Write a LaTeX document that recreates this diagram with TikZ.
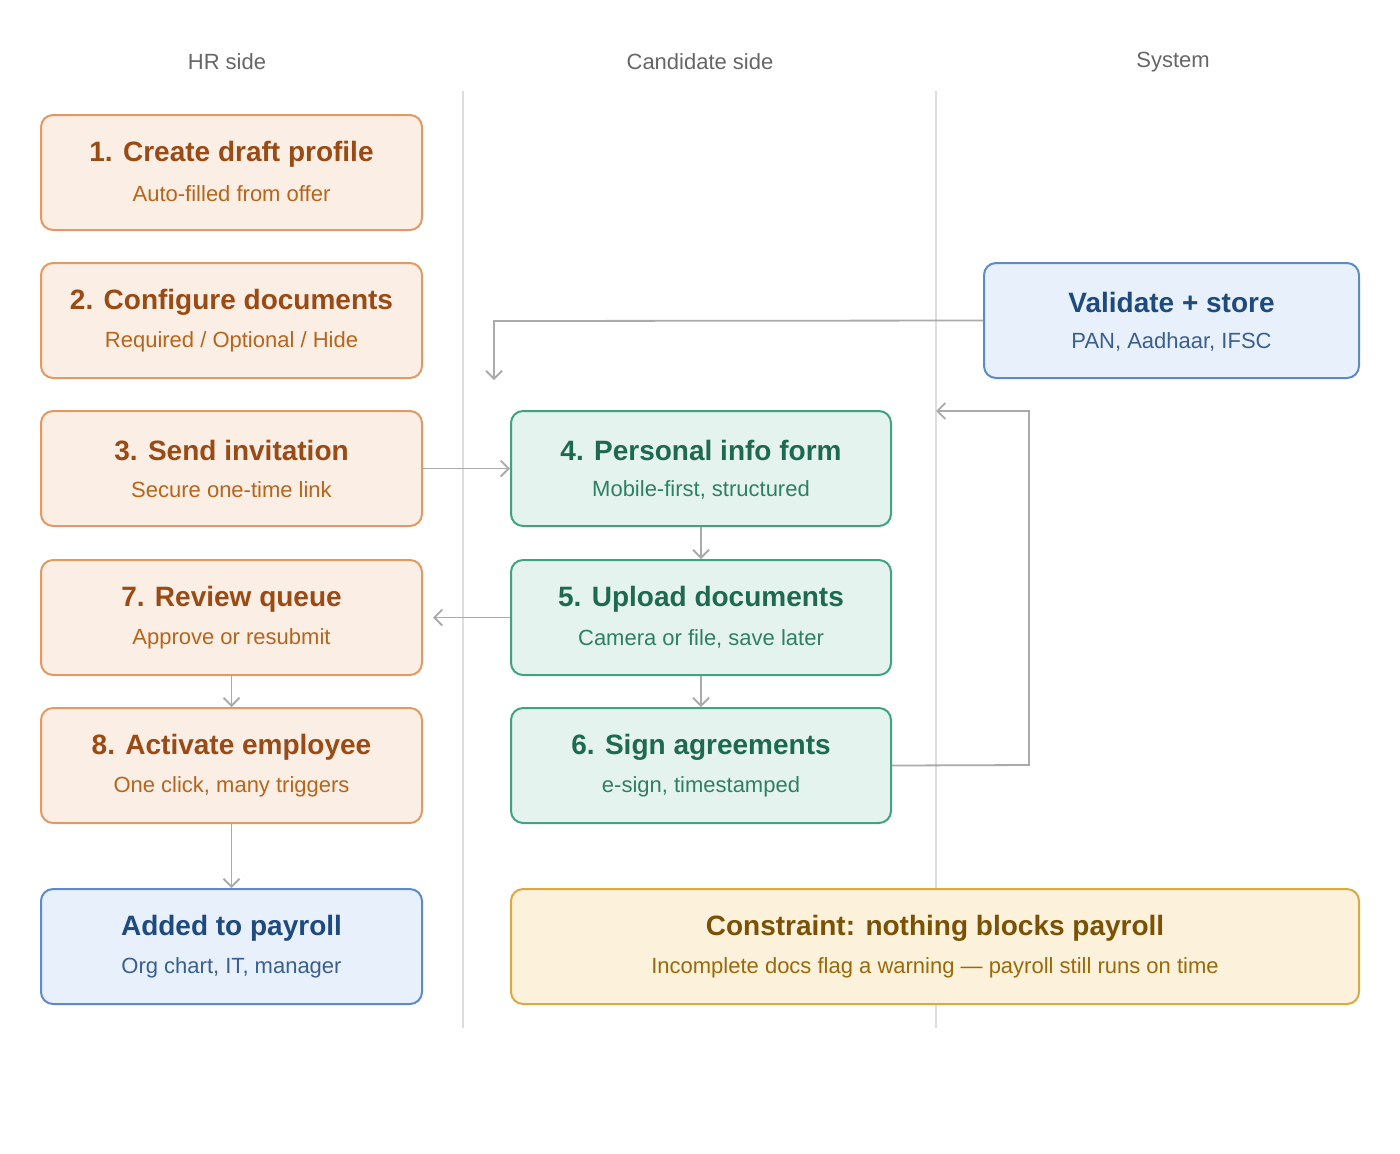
\documentclass[tikz,border=0pt]{standalone}
\usepackage{fontspec}
\setmainfont{Liberation Sans}
\usetikzlibrary{arrows.meta,positioning}
\definecolor{ofill}{HTML}{FBEEE4}\definecolor{odraw}{HTML}{E39A62}\definecolor{otit}{HTML}{9A4A14}\definecolor{osub}{HTML}{B8651C}
\definecolor{gfill}{HTML}{E5F3EE}\definecolor{gdraw}{HTML}{3FA382}\definecolor{gtit}{HTML}{1E6A4F}\definecolor{gsub}{HTML}{2E8063}
\definecolor{bfill}{HTML}{E8F0FB}\definecolor{bdraw}{HTML}{5F8AC8}\definecolor{btit}{HTML}{1F4A7E}\definecolor{bsub}{HTML}{3A5F8F}
\definecolor{yfill}{HTML}{FCF1DA}\definecolor{ydraw}{HTML}{DAAA40}\definecolor{ytit}{HTML}{7A5206}\definecolor{ysub}{HTML}{9A6A0A}
\definecolor{lane}{HTML}{DDDDDD}\definecolor{conn}{HTML}{AAAAAA}\definecolor{head}{HTML}{666666}
\tikzset{
 box/.style={rounded corners=6pt,line width=1pt,inner sep=0pt,align=center},
 hr/.style={box,fill=ofill,draw=odraw},
 cand/.style={box,fill=gfill,draw=gdraw},
 sys/.style={box,fill=bfill,draw=bdraw},
 note/.style={box,fill=yfill,draw=ydraw},
 tit/.style={font=\fontsize{14}{16}\selectfont\bfseries},
 sub/.style={font=\fontsize{11}{13}\selectfont},
 hd/.style={font=\fontsize{11}{13}\selectfont,text=head},
 arr/.style={draw=conn,line width=0.9pt,-{Straight Barb[length=4pt,width=8pt]}}
}
\newcommand{\bx}[8]{% name style x1 y1 x2 y2 title subtitle; colors via #2
 \path[#2] (#3,#4) rectangle (#5,#6);
 \coordinate (#1) at ({(#3+#5)/2},{(#4+#6)/2});
}
\begin{document}
\begin{tikzpicture}[x=0.5pt,y=-0.5pt]
\useasboundingbox (0,0) rectangle (1400,1153);
\draw[lane,line width=1pt] (463,91) -- (463,1028);
\draw[lane,line width=1pt] (936,91) -- (936,1028);
\node[hd] (h1) at (227,62) {HR side};
\node[hd] (h2) at (700,62) {Candidate side};
\node[hd] (h3) at (1173,62) {System};
% boxes
\newcommand{\mk}[9]{%
 \node[#2,minimum width={(#5-#3)*0.5pt},minimum height={(#6-#4)*0.5pt}] (#1) at ({(#3+#5)/2},{(#4+#6)/2}) {};
 \node[tit,text=#9tit] at ({(#3+#5)/2},{(#4+#6)/2-18}) {#7};
 \node[sub,text=#9sub] at ({(#3+#5)/2},{(#4+#6)/2+21}) {#8};}
\mk{n1}{hr}{41}{115}{422}{230}{1. Create draft profile}{Auto-filled from offer}{o}
\mk{n2}{hr}{41}{263}{422}{378}{2. Configure documents}{Required / Optional / Hide}{o}
\mk{n3}{hr}{41}{411}{422}{526}{3. Send invitation}{Secure one-time link}{o}
\mk{n7}{hr}{41}{560}{422}{675}{7. Review queue}{Approve or resubmit}{o}
\mk{n8}{hr}{41}{708}{422}{823}{8. Activate employee}{One click, many triggers}{o}
\mk{np}{sys}{41}{889}{422}{1004}{Added to payroll}{Org chart, IT, manager}{b}
\mk{n4}{cand}{511}{411}{891}{526}{4. Personal info form}{Mobile-first, structured}{g}
\mk{n5}{cand}{511}{560}{891}{675}{5. Upload documents}{Camera or file, save later}{g}
\mk{n6}{cand}{511}{708}{891}{823}{6. Sign agreements}{e-sign, timestamped}{g}
\mk{nv}{sys}{984}{263}{1359}{378}{Validate + store}{PAN, Aadhaar, IFSC}{b}
\mk{nc}{note}{511}{889}{1359}{1004}{Constraint: nothing blocks payroll}{Incomplete docs flag a warning — payroll still runs on time}{y}
\coordinate (c1) at (936,411);
\coordinate (c2) at (494,380);
\draw[arr] (n3.east) -- (n4.west);
\draw[arr] (n4.south) -- (n5.north);
\draw[arr] (n5.south) -- (n6.north);
\draw[arr] (n5.west) -- ([xshift=5pt]n7.east);
\draw[arr] (n7.south) -- (n8.south|-n8.north);
\draw[arr] (n8.south) -- (np.north);
\draw[arr] (n6.east) -- (1029,765) -- (1029,411) -- (c1);
\draw[arr] (nv.west) -- (494,321) -- (c2);
\end{tikzpicture}
\end{document}
